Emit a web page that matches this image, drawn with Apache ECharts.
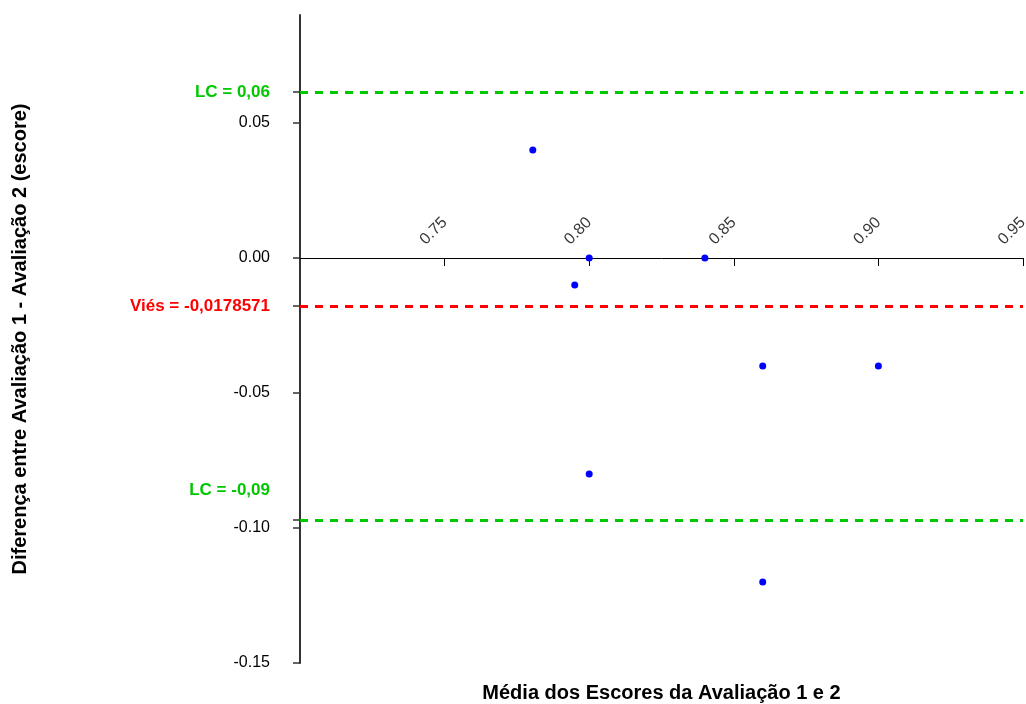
<!DOCTYPE html>
<html>
<head>
<meta charset="utf-8">
<script src="https://cdn.jsdelivr.net/npm/echarts@6/dist/echarts.min.js"></script>
<style>
  html, body { margin: 0; padding: 0; background: #fff; }
  #main { width: 1026px; height: 704px; }
</style>
</head>
<body>
<div id="main"></div>
<script>
// mean of the two evaluations (x) and difference 1 - 2 (y)
const meanScores = [0.7805, 0.80, 0.795, 0.84, 0.86, 0.90, 0.80, 0.86];
const diffScores = [0.04, 0.00, -0.01, 0.00, -0.04, -0.04, -0.08, -0.12];

// bias and limits of agreement
const refValues = [0.0615, -0.0178571, -0.097];
const refLabels = ['LC = 0,06', 'Viés = -0,0178571', 'LC = -0,09'];
const refColors = ['#00c800', '#ff0000', '#00c800'];

const xTicks = [0.75, 0.80, 0.85, 0.90, 0.95];
const yTicks = [-0.15, -0.10, -0.05, 0.00, 0.05];

const font = 'Liberation Sans, Arial, sans-serif';

let points = meanScores.map(function (m, i) { return [m, diffScores[i]]; });

let refLines = refValues.map(function (v, i) {
    return {
        yAxis: v,
        lineStyle: { color: refColors[i] },
        label: {
            color: refColors[i],
            formatter: refLabels[i],
            offset: i == 2 ? [0, -30] : [0, 0]
        }
    };
});

// x tick labels sit above the zero line, so they are drawn as labels on y = 0
let xLabelPoints = xTicks.map(function (v) { return [v, 0]; });

var chart = echarts.init(document.getElementById('main'));

var option = {
    animation: false,
    backgroundColor: '#fff',
    grid: { left: 300, right: 3, top: 15, bottom: 41, containLabel: false, outerBoundsMode: 'none' },
    xAxis: [
        {
            type: 'value',
            min: 0.70,
            max: 0.95,
            position: 'bottom',
            axisLine: { onZero: true, lineStyle: { color: '#000', width: 1 } },
            axisTick: { show: true, length: 8, customValues: xTicks,
                lineStyle: { color: '#000', width: 1 } },
            axisLabel: { show: false },
            splitLine: { show: false }
        },
        {
            type: 'value',
            min: 0.70,
            max: 0.95,
            position: 'bottom',
            axisLine: { show: false, onZero: false },
            axisTick: { show: false },
            axisLabel: { show: false },
            splitLine: { show: false },
            name: 'Média dos Escores da Avaliação 1 e 2',
            nameLocation: 'middle',
            nameGap: 20,
            nameTextStyle: { color: '#000', fontSize: 20, fontWeight: 'bold', fontFamily: font }
        }
    ],
    yAxis: {
        type: 'value',
        min: -0.15,
        max: 0.09,
        interval: 0.05,
        axisLine: { show: true, onZero: false, lineStyle: { color: '#333', width: 2 } },
        axisTick: { show: true, length: 7, customValues: yTicks.concat(refValues),
            lineStyle: { color: '#333', width: 1.5 } },
        axisLabel: {
            customValues: yTicks,
            margin: 30,
            color: '#000',
            fontSize: 16,
            fontFamily: font,
            formatter: function (v) { return v.toFixed(2); }
        },
        splitLine: { show: false },
        name: 'Diferença entre Avaliação 1 - Avaliação 2 (escore)',
        nameLocation: 'middle',
        nameGap: 270,
        nameTextStyle: { color: '#000', fontSize: 20, fontWeight: 'bold', fontFamily: font }
    },
    series: [
        {
            type: 'scatter',
            xAxisIndex: 0,
            data: points,
            symbolSize: 7,
            itemStyle: { color: '#0000ff', opacity: 1 },
            z: 5,
            markLine: {
                silent: true,
                symbol: 'none',
                precision: 7,
                lineStyle: { type: [8, 7], width: 3 },
                label: {
                    show: true,
                    position: 'start',
                    distance: 30,
                    fontSize: 17,
                    fontWeight: 'bold',
                    fontFamily: font
                },
                data: refLines
            }
        },
        {
            type: 'scatter',
            xAxisIndex: 0,
            data: xLabelPoints,
            symbolSize: 0,
            silent: true,
            z: 1,
            label: {
                show: true,
                position: [0, -38],
                align: 'right',
                verticalAlign: 'middle',
                rotate: 45,
                color: '#000',
                fontSize: 16,
                fontFamily: font,
                formatter: function (p) { return p.value[0].toFixed(2); }
            }
        }
    ]
};

chart.setOption(option);
</script>
</body>
</html>
